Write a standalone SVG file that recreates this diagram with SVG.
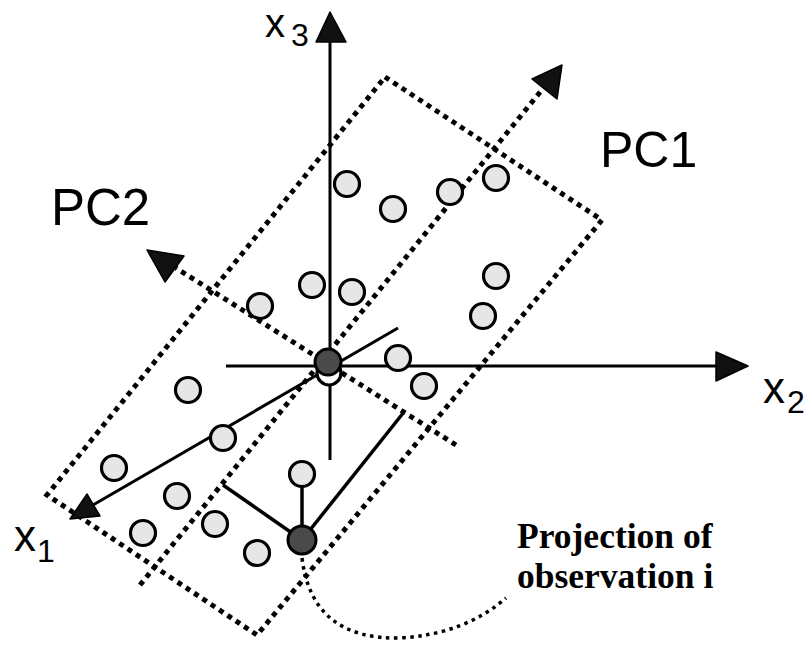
<svg xmlns="http://www.w3.org/2000/svg" width="810" height="645" viewBox="0 0 810 645">
<defs>
<style>
.dot{fill:none;stroke:#000;stroke-width:5;stroke-dasharray:5 5}
.curve{fill:none;stroke:#000;stroke-width:3.5;stroke-dasharray:3.5 4.5}
.axis{fill:none;stroke:#000;stroke-width:3}
.proj{fill:none;stroke:#000;stroke-width:3.5}
.head{fill:#111;stroke:#000;stroke-width:1.5;stroke-linejoin:round}
.pt{fill:#e6e6e6;stroke:#000;stroke-width:3.2}
.dark{fill:#4a4a4a;stroke:#000;stroke-width:3}
.lbl{font-family:"Liberation Sans",Arial,sans-serif;fill:#000}
.note{font-family:"Liberation Serif","Times New Roman",serif;font-weight:bold;font-size:35.5px;fill:#000}
</style>
</defs>
<rect width="810" height="645" fill="#fff"/>
<g id="connectors">
<polygon class="dot" points="385,77 602,220 257,635 47,495"/>
<line class="dot" x1="140" y1="585" x2="545" y2="86"/>
<line class="dot" x1="456" y1="445" x2="176" y2="268"/>
<path class="curve" d="M302,558 Q312,640 400,638 Q465,634 506,598"/>
<line class="axis" x1="330" y1="460" x2="330" y2="42"/>
<line class="axis" x1="226" y1="366" x2="716" y2="366"/>
<line class="axis" x1="398" y1="328" x2="93" y2="505"/>
<line class="proj" x1="302" y1="540" x2="223" y2="485"/>
<line class="proj" x1="302" y1="540" x2="404" y2="412"/>
<line class="proj" x1="302" y1="540" x2="302" y2="474"/>
<polygon class="head" points="330,12 346,42 316,42"/>
<polygon class="head" points="748,366 716,352 716,381"/>
<polygon class="head" points="70,519 87,494 100,516"/>
<polygon class="head" points="562,65 557,99 532,79"/>
<polygon class="head" points="147,250 184,256 165,282"/>
</g>
<g id="points">
<circle class="pt" cx="347" cy="184" r="12.5"/>
<circle class="pt" cx="393" cy="209" r="12.5"/>
<circle class="pt" cx="450" cy="192" r="12.5"/>
<circle class="pt" cx="496" cy="178" r="12.5"/>
<circle class="pt" cx="496" cy="276" r="12.5"/>
<circle class="pt" cx="483" cy="316" r="12.5"/>
<circle class="pt" cx="312" cy="285" r="12.5"/>
<circle class="pt" cx="352" cy="292" r="12.5"/>
<circle class="pt" cx="260" cy="306" r="12.5"/>
<circle class="pt" cx="398" cy="358" r="12.5"/>
<circle class="pt" cx="424" cy="386" r="12.5"/>
<circle class="pt" cx="188" cy="390" r="12.5"/>
<circle class="pt" cx="223" cy="438" r="12.5"/>
<circle class="pt" cx="114" cy="468" r="12.5"/>
<circle class="pt" cx="177" cy="496" r="12.5"/>
<circle class="pt" cx="143" cy="533" r="12.5"/>
<circle class="pt" cx="215" cy="524" r="12.5"/>
<circle class="pt" cx="257" cy="553" r="12.5"/>
<circle class="pt" cx="302" cy="474" r="12.5"/>
</g>
<g id="center">
<circle class="pt" cx="329" cy="373" r="12" style="fill:#fff"/>
<circle class="dark" cx="328" cy="362" r="13"/>
</g>
<g id="observation-i">
<circle class="dark" cx="302" cy="540" r="14"/>
</g>
<g id="label-x3"><text class="lbl" x="265" y="37" font-size="40">x<tspan font-size="32" x="291" y="46">3</tspan></text></g>
<g id="label-x2"><text class="lbl" x="763" y="403" font-size="44">x<tspan font-size="32" x="787" y="413">2</tspan></text></g>
<g id="label-x1"><text class="lbl" x="14" y="551" font-size="44">x<tspan font-size="32" x="37" y="562">1</tspan></text></g>
<g id="label-pc1"><text class="lbl" x="600" y="167" font-size="50">PC1</text></g>
<g id="label-pc2"><text class="lbl" x="51" y="225" font-size="51">PC2</text></g>
<g id="label-projection">
<text class="note" x="517" y="548">Projection of</text>
<text class="note" x="517" y="588">observation i</text>
</g>
</svg>
